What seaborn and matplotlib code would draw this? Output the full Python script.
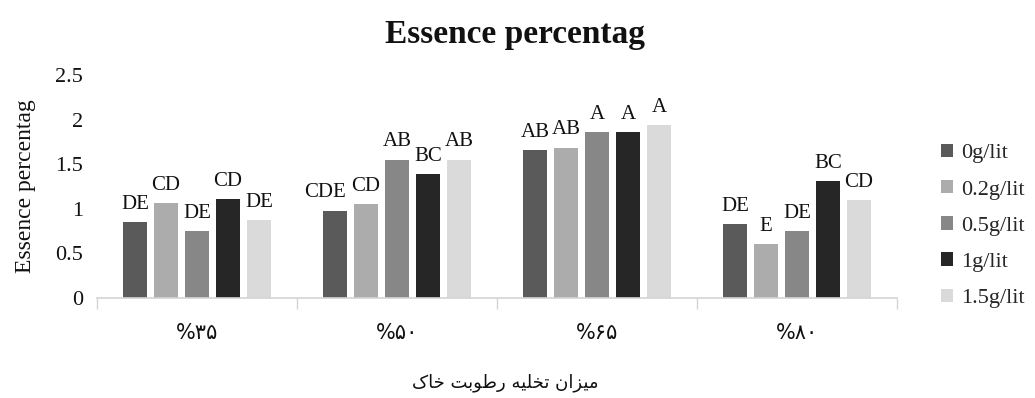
import matplotlib
matplotlib.use("Agg")
import matplotlib.pyplot as plt
from matplotlib.ticker import FuncFormatter, FixedLocator
import seaborn as sns
import pandas as pd

# Soil moisture depletion levels (Persian digits) and treatment doses
categories = ["%\u06f3\u06f5", "%\u06f5\u06f0", "%\u06f6\u06f5", "%\u06f8\u06f0"]
doses = ["0g/lit", "0.2g/lit", "0.5g/lit", "1g/lit", "1.5g/lit"]

# Essence percentage per dose, one value per depletion level
v_0 = [0.85, 0.98, 1.66, 0.83]
v_02 = [1.06, 1.05, 1.685, 0.605]
v_05 = [0.75, 1.55, 1.86, 0.75]
v_1 = [1.11, 1.39, 1.86, 1.31]
v_15 = [0.87, 1.55, 1.935, 1.10]

# Mean-comparison letters
l_0 = ["DE", "CDE", "AB", "DE"]
l_02 = ["CD", "CD", "AB", "E"]
l_05 = ["DE", "AB", "A", "DE"]
l_1 = ["CD", "BC", "A", "BC"]
l_15 = ["DE", "AB", "A", "CD"]

series = [v_0, v_02, v_05, v_1, v_15]
letters = [l_0, l_02, l_05, l_1, l_15]
colors = ["#5a5a5a", "#acacac", "#878787", "#262626", "#dadada"]

# "میزان تخلیه رطوبت خاک" written with presentation forms, laid out visually
xlabel_logical = ("\ufee3\ufef4\ufeb0\ufe8d\ufee5 \ufe97\ufea8\ufee0\ufef4\ufeea "
                  "\ufead\ufec3\ufeee\ufe91\ufe96 \ufea7\ufe8e\ufb8e")
xlabel_text = xlabel_logical[::-1]

rows = []
for dose, vals in zip(doses, series):
    for cat, v in zip(categories, vals):
        rows.append({"level": cat, "dose": dose, "value": v})
df = pd.DataFrame(rows)

sns.set_theme(style="white")
plt.rcParams["font.family"] = ["Liberation Serif", "DejaVu Sans"]

fig = plt.figure(figsize=(10.35, 3.98), dpi=100)
ax = fig.add_axes([97 / 1035, 100 / 398, 800 / 1035, 223 / 398])

sns.barplot(data=df, x="level", y="value", hue="dose", order=categories,
            hue_order=doses, palette=colors, saturation=1, errorbar=None,
            width=0.775, gap=0.226, linewidth=0, ax=ax)

for container, labs in zip(ax.containers, letters):
    for bar, lab in zip(container, labs):
        # longer labels are nudged left so they clear the neighbouring one
        dx = -7 if len(lab) > 2 else 0
        ax.annotate(lab, (bar.get_x() + bar.get_width() / 2, bar.get_height()),
                    xytext=(dx, 6), textcoords="offset points",
                    ha="center", va="bottom", fontsize=15, color="#111111")

ax.set_xlim(-0.5, 3.5)
ax.set_ylim(0, 2.5)
ax.yaxis.set_major_locator(FixedLocator([0, 0.5, 1, 1.5, 2, 2.5]))
ax.yaxis.set_major_formatter(FuncFormatter(lambda v, p: f"{v:g}"))
ax.tick_params(axis="y", length=0, labelsize=16, pad=10, labelcolor="#111111")
ax.tick_params(axis="x", which="major", length=0, labelsize=15, pad=18,
               labelcolor="#111111")
ax.set_xticks([-0.5, 0.5, 1.5, 2.5, 3.5], minor=True)
ax.tick_params(axis="x", which="minor", length=8, width=1, color="#d4d4d4",
               bottom=True)
for lab in ax.get_xticklabels():
    lab.set_family(["DejaVu Sans"])

for side in ["left", "top", "right"]:
    ax.spines[side].set_visible(False)
ax.spines["bottom"].set_color("#d4d4d4")
ax.spines["bottom"].set_linewidth(1.2)

ax.set_ylabel("Essence percentag", fontsize=17, labelpad=14, color="#111111")
ax.set_xlabel("")
fig.text(505 / 1035, 1 - 383 / 398, xlabel_text, ha="center", va="center",
         fontsize=13, family=["DejaVu Sans"], color="#111111")
fig.text(515 / 1035, 1 - 34 / 398, "Essence percentag", ha="center",
         va="center", fontsize=24, fontweight="bold", color="#111111")

handles, labels = ax.get_legend_handles_labels()
ax.legend(handles, labels, loc="center left",
          bbox_to_anchor=(932 / 1035, 1 - 226 / 398),
          bbox_transform=fig.transFigure, frameon=False, fontsize=16,
          handlelength=0.55, handleheight=0.55, handletextpad=0.35,
          labelspacing=0.75, borderaxespad=0)

fig.savefig("out.png", dpi=100, facecolor="white")
